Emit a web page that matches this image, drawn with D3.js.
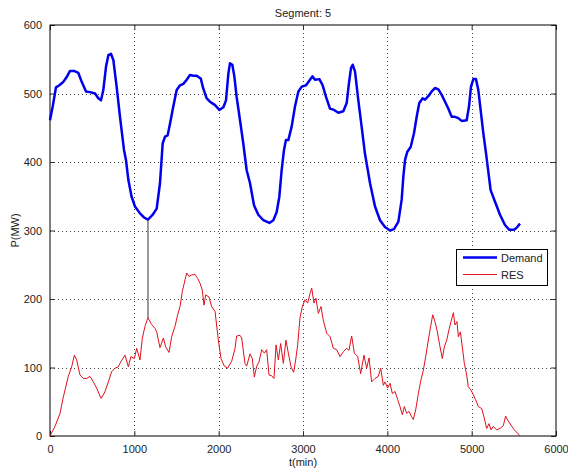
<!DOCTYPE html>
<html>
<head>
<meta charset="utf-8">
<script src="https://cdn.jsdelivr.net/npm/d3@7"></script>
<style>
body { margin: 0; background: #fff; }
svg { font-family: "Liberation Sans", Arial, sans-serif; }
</style>
</head>
<body>
<svg width="568" height="468"></svg>
<script>
// Demand curve (t in minutes, P in MW)
var demandT = [0, 32, 71, 111, 158, 198, 237, 285, 336, 376, 427, 474, 534, 573, 605, 632, 664, 692, 723, 751, 790, 830, 877, 901, 929, 968, 1008, 1067, 1115, 1162, 1218, 1265, 1304, 1336, 1364, 1395, 1423, 1462, 1502, 1542, 1581, 1621, 1660, 1700, 1739, 1787, 1818, 1858, 1897, 1957, 2008, 2056, 2087, 2115, 2134, 2162, 2186, 2213, 2253, 2292, 2332, 2372, 2419, 2470, 2530, 2601, 2648, 2688, 2719, 2747, 2775, 2798, 2826, 2866, 2905, 2945, 2985, 3036, 3083, 3111, 3142, 3194, 3233, 3273, 3320, 3368, 3419, 3478, 3518, 3545, 3569, 3589, 3617, 3656, 3696, 3735, 3795, 3854, 3913, 3972, 4032, 4079, 4131, 4170, 4190, 4210, 4237, 4277, 4316, 4348, 4379, 4419, 4447, 4486, 4526, 4565, 4605, 4645, 4684, 4723, 4763, 4802, 4842, 4882, 4941, 4968, 4992, 5020, 5051, 5079, 5111, 5138, 5170, 5225, 5277, 5336, 5395, 5447, 5502, 5534, 5573];
var demandP = [461, 481, 509, 512, 517, 524, 533, 533, 530, 517, 503, 502, 500, 493, 490, 505, 539, 556, 558, 549, 510, 466, 418, 403, 374, 349, 335, 325, 319, 316, 323, 332, 369, 427, 437, 439, 456, 481, 505, 512, 514, 520, 527, 526, 526, 522, 507, 493, 488, 483, 476, 480, 490, 529, 544, 542, 525, 495, 461, 427, 388, 369, 337, 323, 315, 311, 315, 327, 349, 388, 418, 432, 432, 452, 481, 503, 510, 512, 520, 525, 520, 521, 512, 495, 478, 476, 472, 474, 486, 515, 537, 542, 532, 490, 451, 412, 369, 335, 315, 305, 300, 302, 313, 345, 379, 403, 415, 422, 442, 466, 486, 493, 491, 496, 503, 508, 506, 498, 488, 478, 466, 466, 464, 460, 461, 481, 510, 521, 521, 505, 471, 442, 413, 359, 342, 323, 308, 301, 301, 304, 310];

// RES curve
var resT = [0, 59, 119, 158, 217, 257, 289, 316, 356, 395, 435, 474, 514, 553, 605, 632, 652, 692, 731, 771, 810, 842, 889, 929, 960, 1000, 1028, 1067, 1095, 1126, 1162, 1198, 1245, 1265, 1304, 1344, 1372, 1411, 1443, 1482, 1514, 1542, 1569, 1601, 1621, 1648, 1680, 1719, 1751, 1779, 1806, 1826, 1846, 1885, 1917, 1957, 1996, 2028, 2067, 2107, 2154, 2194, 2213, 2253, 2273, 2312, 2332, 2372, 2399, 2423, 2451, 2478, 2510, 2542, 2569, 2597, 2628, 2656, 2680, 2708, 2735, 2767, 2798, 2826, 2858, 2889, 2913, 2937, 2964, 2992, 3024, 3055, 3083, 3103, 3130, 3154, 3182, 3213, 3241, 3281, 3320, 3360, 3399, 3439, 3478, 3518, 3545, 3577, 3609, 3648, 3684, 3723, 3755, 3783, 3814, 3854, 3893, 3921, 3953, 3972, 4004, 4032, 4059, 4091, 4123, 4150, 4178, 4202, 4229, 4257, 4289, 4308, 4336, 4368, 4399, 4427, 4455, 4486, 4514, 4538, 4565, 4593, 4625, 4652, 4676, 4704, 4731, 4755, 4783, 4802, 4826, 4842, 4866, 4889, 4913, 4941, 4960, 4992, 5020, 5047, 5079, 5119, 5146, 5178, 5206, 5229, 5257, 5296, 5336, 5375, 5403, 5427, 5466, 5506, 5553, 5573];
var resP = [0, 14, 33, 57, 87, 101, 118, 111, 89, 84, 84, 87, 79, 70, 55, 60, 65, 79, 94, 99, 101, 109, 118, 101, 116, 113, 128, 111, 143, 160, 173, 164, 157, 152, 129, 143, 130, 122, 145, 160, 177, 189, 211, 228, 238, 233, 235, 236, 230, 223, 213, 191, 206, 203, 189, 182, 140, 113, 102, 99, 109, 128, 146, 147, 143, 106, 102, 120, 113, 86, 102, 108, 126, 121, 126, 89, 88, 84, 133, 111, 135, 106, 140, 121, 101, 93, 111, 133, 172, 189, 199, 194, 208, 216, 194, 201, 179, 189, 169, 150, 145, 128, 126, 116, 123, 128, 125, 146, 121, 116, 91, 118, 99, 114, 79, 84, 87, 99, 74, 79, 70, 77, 62, 65, 53, 43, 31, 43, 33, 36, 28, 24, 38, 62, 82, 96, 116, 140, 160, 177, 167, 152, 130, 113, 130, 140, 155, 167, 180, 162, 167, 145, 152, 130, 106, 89, 72, 67, 60, 53, 43, 40, 28, 11, 18, 9, 14, 9, 11, 15, 29, 23, 16, 9, 3, 0];

// marker linking the two curves
var markT = 1162, markLow = 173, markHigh = 316;

var xTicks = [0, 1000, 2000, 3000, 4000, 5000, 6000];
var yTicks = [0, 100, 200, 300, 400, 500, 600];
var seriesNames = ["Demand", "RES"];

var svg = d3.select("svg");
var plotL = 50, plotR = 556, plotT = 25, plotB = 436;

var x = d3.scaleLinear().domain([0, 6000]).range([plotL, plotR]);
var y = d3.scaleLinear().domain([0, 600]).range([plotB, plotT]);

// grid
var grid = svg.append("g").attr("stroke", "#444").attr("stroke-dasharray", "1,3").attr("stroke-width", 1);
grid.selectAll(".gx").data(xTicks.slice(1, -1)).enter().append("line")
    .attr("x1", function(d) { return Math.round(x(d)) + 0.5; })
    .attr("x2", function(d) { return Math.round(x(d)) + 0.5; })
    .attr("y1", plotT).attr("y2", plotB);
grid.selectAll(".gy").data(yTicks.slice(1, -1)).enter().append("line")
    .attr("y1", function(d) { return Math.round(y(d)) + 0.5; })
    .attr("y2", function(d) { return Math.round(y(d)) + 0.5; })
    .attr("x1", plotL).attr("x2", plotR);

// axes, ticks pointing inward like MATLAB
svg.append("g").attr("transform", "translate(0," + plotB + ")")
    .call(d3.axisBottom(x).tickValues(xTicks).tickFormat(d3.format("d")).tickSizeInner(-5).tickSizeOuter(0).tickPadding(9));
svg.append("g").attr("transform", "translate(" + plotL + ",0)")
    .call(d3.axisLeft(y).tickValues(yTicks).tickFormat(d3.format("d")).tickSizeInner(-5).tickSizeOuter(0).tickPadding(8));
svg.append("g").attr("transform", "translate(0," + plotT + ")")
    .call(d3.axisTop(x).tickValues(xTicks).tickSizeInner(-5).tickSizeOuter(0).tickFormat(""));
svg.append("g").attr("transform", "translate(" + plotR + ",0)")
    .call(d3.axisRight(y).tickValues(yTicks).tickSizeInner(-5).tickSizeOuter(0).tickFormat(""));
svg.selectAll(".domain").remove();
svg.selectAll(".tick line").attr("stroke", "#333");
svg.selectAll(".tick text").attr("font-size", 11).attr("fill", "#222")
    .attr("font-family", "Liberation Sans, Arial, sans-serif");

// frame
svg.append("rect").attr("x", plotL).attr("y", plotT)
    .attr("width", plotR - plotL).attr("height", plotB - plotT)
    .attr("fill", "none").attr("stroke", "#000").attr("stroke-width", 1);

// lines
var demandData = demandT.map(function(t, i) { return { t: t, p: demandP[i] }; });
var resData = resT.map(function(t, i) { return { t: t, p: resP[i] }; });
var line = d3.line().x(function(d) { return x(d.t); }).y(function(d) { return y(d.p); });

svg.append("path").datum(resData)
    .attr("fill", "none").attr("stroke", "#e0101c").attr("stroke-width", 1)
    .attr("d", line);

svg.append("line")
    .attr("x1", x(markT)).attr("x2", x(markT))
    .attr("y1", y(markLow)).attr("y2", y(markHigh))
    .attr("stroke", "#333").attr("stroke-width", 1);

svg.append("path").datum(demandData)
    .attr("fill", "none").attr("stroke", "#0000ee").attr("stroke-width", 2.5)
    .attr("stroke-linejoin", "round")
    .attr("d", line);

// labels
svg.append("text").attr("x", (plotL + plotR) / 2).attr("y", 17)
    .attr("text-anchor", "middle").attr("font-size", 11).attr("fill", "#222")
    .text("Segment: 5");
svg.append("text").attr("x", (plotL + plotR) / 2).attr("y", 466)
    .attr("text-anchor", "middle").attr("font-size", 11).attr("fill", "#222")
    .text("t(min)");
svg.append("text").attr("transform", "translate(19," + (plotT + plotB) / 2 + ") rotate(-90)")
    .attr("text-anchor", "middle").attr("font-size", 11).attr("fill", "#222")
    .text("P(MW)");

// legend
var legend = svg.append("g").attr("transform", "translate(456,249)");
legend.append("rect").attr("x", 0.5).attr("y", 0.5).attr("width", 91).attr("height", 36)
    .attr("fill", "#fff").attr("stroke", "#000");
var colors = ["#0000ee", "#e0101c"], widths = [2.5, 1];
seriesNames.forEach(function(name, i) {
    var ly = 8.5 + i * 17;
    legend.append("line").attr("x1", 7).attr("x2", 41).attr("y1", ly).attr("y2", ly)
        .attr("stroke", colors[i]).attr("stroke-width", widths[i]);
    legend.append("text").attr("x", 45).attr("y", ly + 4)
        .attr("font-size", 11).attr("fill", "#222").text(name);
});
</script>
</body>
</html>
